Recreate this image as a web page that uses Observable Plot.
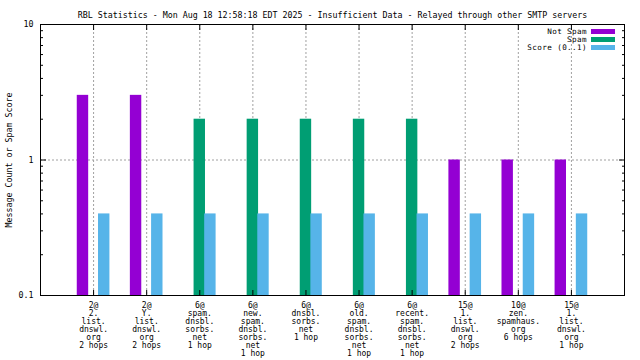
<!DOCTYPE html>
<html><head><meta charset="utf-8">
<script src="https://cdn.jsdelivr.net/npm/d3@7"></script>
<script src="https://cdn.jsdelivr.net/npm/@observablehq/plot@0.6"></script>
<style>body{margin:0;background:#fff} #chart svg{display:block}</style>
</head><body><div id="chart"></div>
<script>
const title = "RBL Statistics - Mon Aug 18 12:58:18 EDT 2025 - Insufficient Data - Relayed through other SMTP servers";
const yLabel = "Message Count or Spam Score";
const categories = [
  "2@\n2.\nlist.\ndnswl.\norg\n2 hops",
  "2@\nY.\nlist.\ndnswl.\norg\n2 hops",
  "6@\nspam.\ndnsbl.\nsorbs.\nnet\n1 hop",
  "6@\nnew.\nspam.\ndnsbl.\nsorbs.\nnet\n1 hop",
  "6@\ndnsbl.\nsorbs.\nnet\n1 hop",
  "6@\nold.\nspam.\ndnsbl.\nsorbs.\nnet\n1 hop",
  "6@\nrecent.\nspam.\ndnsbl.\nsorbs.\nnet\n1 hop",
  "15@\n1.\nlist.\ndnswl.\norg\n2 hops",
  "10@\nzen.\nspamhaus.\norg\n6 hops",
  "15@\n1.\nlist.\ndnswl.\norg\n1 hop"
];
const seriesNames = ["Not Spam", "Spam", "Score (0..1)"];
const notSpam = [3, 3, 0, 0, 0, 0, 0, 1, 1, 1];
const spam    = [0, 0, 2, 2, 2, 2, 2, 0, 0, 0];
const score   = [0.4, 0.4, 0.4, 0.4, 0.4, 0.4, 0.4, 0.4, 0.4, 0.4];
const seriesColors = ["#9400d3", "#009e73", "#56b4e9"];
const yMajorTicks = [0.1, 1, 10];
const yTickLabels = ["0.1", "1", "10"];
const yMinorTicks = [0.2, 0.3, 0.4, 0.5, 0.6, 0.7, 0.8, 0.9, 2, 3, 4, 5, 6, 7, 8, 9];

const seriesValues = [notSpam, spam, score];
const slot = 0.2, barW = 0.215;
const rows = [];
categories.forEach((c, i) => {
  seriesValues.forEach((vals, j) => {
    if (vals[i] > 0) rows.push({i, series: seriesNames[j], j, value: vals[i]});
  });
});
const xIdx = categories.map((_, i) => i);

const W = 640, H = 360, mL = 40, mR = 16, mT = 24, mB = 65;
const font = "'DejaVu Sans Mono', 'Liberation Mono', monospace";
const fs = 8.3;
const grid = {stroke: "#a0a0a0", strokeOpacity: 1, strokeWidth: 1, strokeDasharray: "2,2"};

const chart = Plot.plot({
  width: W, height: H,
  marginLeft: mL, marginRight: mR, marginTop: mT, marginBottom: mB,
  style: {fontFamily: font, fontSize: fs + "px", background: "white", color: "black"},
  x: {type: "linear", domain: [-1, 10], axis: null},
  y: {type: "log", domain: [0.1, 10], axis: null},
  color: {domain: seriesNames, range: seriesColors},
  marks: [
    Plot.ruleX(xIdx, {...grid}),
    Plot.ruleY([1], {...grid}),
    Plot.rect(rows, {
      x1: d => d.i + (d.j - 1) * slot - barW / 2,
      x2: d => d.i + (d.j - 1) * slot + barW / 2,
      y1: 0.1, y2: "value", fill: "series"
    }),
    Plot.frame({stroke: "black", strokeWidth: 1}),
    // y ticks, mirrored, inward
    Plot.axisY(yMajorTicks, {anchor: "left", tickSize: -6, tickFormat: () => "", label: null, stroke: "black"}),
    Plot.axisY(yMinorTicks, {anchor: "left", tickSize: -3, tickFormat: () => "", label: null, stroke: "black"}),
    Plot.axisY(yMajorTicks, {anchor: "right", tickSize: -6, tickFormat: () => "", label: null, stroke: "black"}),
    Plot.axisY(yMinorTicks, {anchor: "right", tickSize: -3, tickFormat: () => "", label: null, stroke: "black"}),
    Plot.axisY(yMajorTicks, {anchor: "left", tickSize: 0, tickPadding: 7, tickFormat: (d) => yTickLabels[yMajorTicks.indexOf(d)], label: null, fill: "black"}),
    // x ticks, mirrored, inward
    Plot.axisX(xIdx, {anchor: "bottom", tickSize: -5, tickFormat: () => "", label: null, stroke: "black"}),
    Plot.axisX(xIdx, {anchor: "top", tickSize: -5, tickFormat: () => "", label: null, stroke: "black"}),
    Plot.axisX(xIdx, {anchor: "bottom", tickSize: 0, tickPadding: 6.5, tickFormat: i => categories[i], fontSize: 8, lineHeight: 1, label: null, fill: "black", style: {letterSpacing: "0.2px"}}),
    Plot.text([yLabel], {frameAnchor: "left", rotate: -90, textAnchor: "middle", dx: -31, fill: "black"}),
    Plot.text([title], {frameAnchor: "top", textAnchor: "middle", dy: -12, fill: "black"})
  ]
});

// legend inside the plot, top-right (gnuplot key style)
const svg = d3.select(chart);
const key = svg.append("g").attr("font-family", font).attr("font-size", 7.6).attr("letter-spacing", "0.4px");
seriesNames.forEach((name, j) => {
  const cy = mT + 7.5 + 8 * j;
  key.append("text").attr("x", W - mR - 37).attr("y", cy).attr("dy", "0.32em")
    .attr("text-anchor", "end").attr("fill", "black").text(name);
  key.append("rect").attr("x", W - mR - 33).attr("y", cy - 2.5).attr("width", 24).attr("height", 5)
    .attr("fill", seriesColors[j]);
});

document.getElementById("chart").append(chart);
</script>
</body></html>
